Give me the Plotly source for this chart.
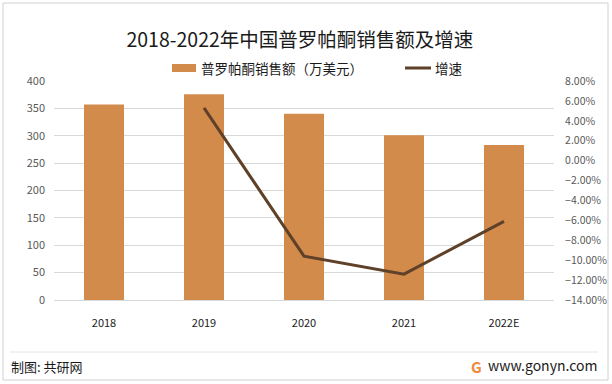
import plotly.graph_objects as go

years = ["2018", "2019", "2020", "2021", "2022E"]
sales = [357, 376, 340, 301, 283]
growth = [None, 5.3, -9.6, -11.4, -6.1]
legend_names = ["普罗帕酮销售额（万美元）", "增速"]

BAR = "#D38B4C"
LINE = "#5E4128"
FONT = "Noto Sans CJK SC"

W, H = 612, 384
L, R, T, B = 54, 58, 81, 84
pw, ph = W - L - R, H - T - B

def px(x):
    return (x - L) / pw

def py(y):
    return (H - B - y) / ph

fig = go.Figure()
fig.add_trace(go.Bar(x=years, y=sales, name=legend_names[0],
                     marker=dict(color=BAR, line=dict(width=0)), yaxis="y"))
fig.add_trace(go.Scatter(x=years, y=growth, name=legend_names[1], mode="lines",
                         line=dict(color=LINE, width=3), yaxis="y2"))

fig.update_layout(
    width=W, height=H,
    margin=dict(l=L, r=R, t=T, b=B, autoexpand=False),
    paper_bgcolor="white", plot_bgcolor="white",
    font=dict(family=FONT, color="#404040", size=11),
    bargap=0.6,
    showlegend=False,
    title=dict(text="2018-2022年中国普罗帕酮销售额及增速", x=0.49, xanchor="center",
               y=1 - 40 / H, yanchor="middle", yref="container",
               font=dict(family=FONT, size=19.5, color="#1a1a1a")),
    xaxis=dict(type="category", showgrid=False, showline=True, linecolor="#D9D9D9",
               linewidth=1, ticks="", tickfont=dict(size=11, color="#1a1a1a"),
               ticklabelstandoff=13, fixedrange=True, automargin=False),
    yaxis=dict(range=[0, 400], dtick=50, showgrid=True, gridcolor="#D9D9D9",
               gridwidth=1, zeroline=False, showline=False, ticks="",
               tickfont=dict(size=11, color="#595959"), ticklabelstandoff=8,
               automargin=False),
    yaxis2=dict(range=[-14, 8], dtick=2, overlaying="y", side="right",
                showgrid=False, zeroline=False, showline=False,
                ticks="outside", ticklen=8, tickcolor="rgba(0,0,0,0)",
                tickformat=".2f", ticksuffix="%", automargin=False,
                tickfont=dict(size=10.5, color="#595959")),
)

# manual legend
fig.add_shape(type="rect", xref="paper", yref="paper", x0=px(172), x1=px(196),
              y0=py(72), y1=py(64), fillcolor=BAR, line=dict(width=0))
fig.add_annotation(text=legend_names[0], xref="paper", yref="paper", x=px(199), y=py(68),
                   xanchor="left", yanchor="middle", showarrow=False,
                   font=dict(family=FONT, size=13.5, color="#1a1a1a"))
fig.add_shape(type="line", xref="paper", yref="paper", x0=px(405), x1=px(431),
              y0=py(68), y1=py(68), line=dict(color=LINE, width=3))
fig.add_annotation(text=legend_names[1], xref="paper", yref="paper", x=px(433), y=py(68),
                   xanchor="left", yanchor="middle", showarrow=False,
                   font=dict(family=FONT, size=13.5, color="#1a1a1a"))

# footer divider and border
fig.add_shape(type="line", xref="paper", yref="paper", x0=px(10), x1=px(598),
              y0=py(352), y1=py(352), line=dict(color="#E6E6E6", width=1))
fig.add_shape(type="rect", xref="paper", yref="paper", x0=px(3), x1=px(608),
              y0=py(380), y1=py(3), line=dict(color="#D0D0D0", width=1))

fig.add_annotation(text="制图: 共研网", xref="paper", yref="paper", x=px(9), y=py(366),
                   xanchor="left", yanchor="middle", showarrow=False,
                   font=dict(family=FONT, size=13, color="#1a1a1a"))
fig.add_annotation(text="www.gonyn.com", xref="paper", yref="paper", x=px(599), y=py(365),
                   xanchor="right", yanchor="middle", showarrow=False,
                   font=dict(family=FONT, size=14, color="#1a1a1a"))
fig.add_annotation(text="<b>G</b>", xref="paper", yref="paper", x=px(476), y=py(366),
                   xanchor="center", yanchor="middle", showarrow=False,
                   font=dict(family=FONT, size=15, color="#F08A3C"))

fig.write_html("out.html", config={"displayModeBar": False},
               post_script="document.body.style.margin='0';")
